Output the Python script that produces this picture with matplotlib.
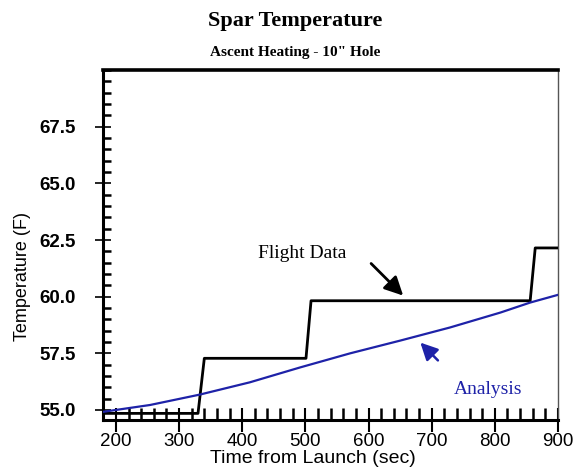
import matplotlib
matplotlib.use('Agg')
import matplotlib.pyplot as plt
from matplotlib.ticker import MultipleLocator

# flight data (step trace)
flight_t = [180, 330, 340, 501, 509, 856, 864, 900]
flight_T = [54.85, 54.85, 57.28, 57.28, 59.82, 59.82, 62.15, 62.15]

# analysis curve
anal_t = [180, 185, 254, 333, 412, 492, 571, 650, 729, 809, 856, 900]
anal_T = [54.92, 54.94, 55.22, 55.68, 56.22, 56.88, 57.50, 58.06, 58.64, 59.30, 59.74, 60.08]

xticks = [200, 300, 400, 500, 600, 700, 800, 900]
yticks = [55.0, 57.5, 60.0, 62.5, 65.0, 67.5]

BLUE = '#1e22a8'
serif = 'Liberation Serif'
sans = 'Liberation Sans'

fig = plt.figure(figsize=(5.77, 4.70), dpi=100)
fig.patch.set_facecolor('white')
ax = fig.add_axes([0.179, 0.106, 0.788, 0.745])

ax.plot(flight_t, flight_T, color='black', lw=2.0, zorder=3)
ax.plot(anal_t, anal_T, color=BLUE, lw=1.6, zorder=4)

ax.set_xlim(180, 900)
ax.set_ylim(54.55, 70.0)

ax.set_xticks(xticks)
ax.set_yticks(yticks)
ax.set_xticklabels([str(v) for v in xticks], fontfamily=sans, fontsize=13.5)
ax.set_yticklabels([f'{v:.1f}' for v in yticks], fontfamily=sans,
                   fontsize=13.5, fontweight='bold')
ax.xaxis.set_minor_locator(MultipleLocator(20))
ax.yaxis.set_minor_locator(MultipleLocator(0.5))

ax.tick_params(axis='x', which='major', direction='inout', length=17,
               width=1.5, pad=1)
ax.tick_params(axis='x', which='minor', direction='in', length=9, width=1.8)
ax.tick_params(axis='y', which='major', direction='inout', length=12,
               width=1.2, pad=14)
ax.tick_params(axis='y', which='minor', direction='in', length=6, width=1.8)

for s in ['left', 'bottom']:
    ax.spines[s].set_linewidth(2.2)
ax.spines['top'].set_linewidth(2.6)
ax.spines['right'].set_linewidth(1.0)
ax.spines['right'].set_color('#555555')

ax.set_xlabel('Time from Launch (sec)', fontfamily=sans, fontsize=14)
ax.xaxis.set_label_coords(0.46, -0.086)
ax.set_ylabel('Temperature (F)', fontfamily=sans, fontsize=13)
ax.yaxis.set_label_coords(-0.158, 0.41)

ax.text(495, 61.9, 'Flight Data', fontfamily=serif, fontsize=14,
        ha='center', va='center')
ax.annotate('', xy=(658, 59.96), xytext=(601, 61.55),
            arrowprops=dict(arrowstyle='-|>', color='black', lw=2,
                            mutation_scale=28))
ax.text(790, 55.91, 'Analysis', fontfamily=serif, fontsize=14,
        color=BLUE, ha='center', va='center')
ax.annotate('', xy=(679, 58.06), xytext=(713, 57.1),
            arrowprops=dict(arrowstyle='-|>', color=BLUE, lw=1.8,
                            mutation_scale=26))

fig.text(0.511, 0.956, 'Spar Temperature', fontfamily=serif, fontsize=16,
         fontweight='bold', ha='center', va='center')
fig.text(0.511, 0.889, 'Ascent Heating - 10" Hole', fontfamily=serif,
         fontsize=11, fontweight='bold', ha='center', va='center')

fig.savefig('out.png', dpi=100, facecolor='white')
